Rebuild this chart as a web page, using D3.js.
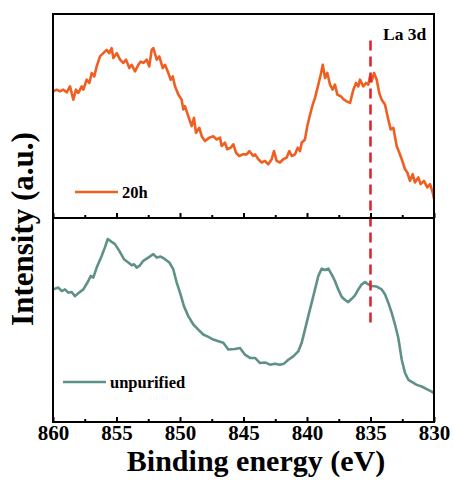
<!DOCTYPE html>
<html>
<head>
<meta charset="utf-8">
<script src="https://cdn.jsdelivr.net/npm/d3@7/dist/d3.min.js"></script>
<style>
  html, body { margin: 0; padding: 0; background: #fff; }
  svg text { font-family: "Liberation Serif", "Times New Roman", serif; font-weight: bold; fill: #000; }
</style>
</head>
<body>
<svg id="chart"></svg>
<script>
// La 3d XPS spectra, two stacked panels sharing the binding-energy axis.

// Top panel: 20h sample (binding energy eV, intensity a.u.)
const energy20h = [859.98, 859.71, 859.45, 859.19, 858.92, 858.66, 858.40, 858.19, 858.01, 857.74,
  857.61, 857.35, 857.14, 856.95, 856.75, 856.56, 856.30, 856.04, 855.77, 855.57,
  855.38, 855.25, 854.98, 854.72, 854.46, 854.25, 853.99, 853.80, 853.54, 853.28,
  853.09, 852.89, 852.62, 852.42, 852.23, 852.10, 851.83, 851.63, 851.36, 851.18,
  850.92, 850.73, 850.57, 850.39, 850.13, 849.87, 849.74, 849.61, 849.35, 849.08,
  848.90, 848.74, 848.48, 848.29, 848.03, 847.69, 847.38, 847.11, 846.85, 846.72,
  846.46, 846.28, 846.01, 845.80, 845.59, 845.33, 845.06, 844.75, 844.54, 844.23,
  844.09, 843.83, 843.57, 843.31, 843.05, 842.78, 842.60, 842.39, 842.13, 841.87,
  841.60, 841.39, 841.20, 840.94, 840.73, 840.55, 840.42, 840.16, 839.98, 839.76,
  839.55, 839.37, 839.11, 838.92, 838.76, 838.58, 838.40, 838.19, 837.98, 837.80,
  837.61, 837.35, 837.09, 836.87, 836.61, 836.35, 836.14, 835.96, 835.83, 835.57,
  835.35, 835.17, 835.04, 834.91, 834.72, 834.51, 834.31, 834.12, 833.86, 833.60,
  833.41, 833.20, 832.94, 832.73, 832.54, 832.28, 832.10, 831.89, 831.68, 831.50,
  831.24, 831.05, 830.79, 830.53, 830.31, 830.10, 830.00];
const intensity20h = [62.1, 62.9, 62.1, 62.9, 61.6, 64.5, 58.0, 62.9, 61.3, 64.5,
  62.9, 67.8, 66.2, 71.1, 69.4, 74.3, 79.2, 80.8, 82.4, 80.8,
  83.3, 78.4, 80.8, 77.6, 76.0, 77.6, 73.5, 75.1, 71.9, 75.1,
  76.7, 76.0, 77.6, 74.3, 82.4, 83.3, 77.6, 79.2, 73.5, 75.1,
  71.1, 67.8, 69.4, 64.5, 60.5, 58.0, 53.2, 54.8, 49.9, 45.0,
  49.1, 41.8, 44.2, 40.1, 37.7, 39.4, 40.1, 38.5, 39.4, 35.3,
  36.9, 33.7, 34.5, 36.1, 32.0, 30.4, 31.2, 31.2, 32.8, 30.4,
  31.2, 28.8, 27.2, 28.0, 26.3, 28.8, 32.8, 28.0, 27.2, 28.8,
  29.6, 32.8, 30.4, 31.2, 34.5, 32.8, 36.9, 38.5, 45.0, 50.7,
  55.6, 58.9, 65.4, 70.2, 75.1, 68.6, 71.1, 65.4, 62.9, 65.4,
  60.5, 59.7, 58.0, 57.2, 56.4, 62.9, 66.2, 64.5, 67.8, 64.5,
  66.2, 65.4, 69.4, 67.0, 71.1, 67.8, 61.3, 58.0, 55.6, 48.3,
  43.4, 44.2, 35.3, 32.0, 28.8, 23.9, 22.3, 18.2, 21.5, 17.4,
  19.9, 16.6, 18.2, 15.0, 16.6, 12.5, 9.3];

// Bottom panel: unpurified sample
const energyUnpur = [859.98, 859.58, 859.31, 859.06, 858.80, 858.53, 858.27, 858.01, 857.61, 857.22,
  857.03, 856.83, 856.56, 856.17, 855.91, 855.69, 855.38, 855.12, 854.78, 854.41,
  854.07, 853.80, 853.62, 853.41, 853.15, 852.89, 852.50, 852.10, 851.83, 851.52,
  851.18, 850.84, 850.53, 850.26, 850.00, 849.69, 849.35, 848.95, 848.56, 848.17,
  847.77, 847.38, 846.98, 846.59, 846.20, 845.67, 845.28, 844.88, 844.49, 844.09,
  843.70, 843.31, 842.91, 842.52, 842.13, 841.81, 841.47, 841.08, 840.69, 840.42,
  840.16, 839.90, 839.63, 839.37, 839.11, 838.84, 838.58, 838.32, 838.06, 837.80,
  837.54, 837.27, 837.01, 836.75, 836.48, 836.22, 835.96, 835.69, 835.43, 835.17,
  834.91, 834.51, 834.12, 833.86, 833.60, 833.33, 833.07, 832.81, 832.54, 832.28,
  832.02, 831.68, 831.36, 830.97, 830.57, 830.18, 830.00];
const intensityUnpur = [65.0, 65.9, 64.2, 65.0, 63.4, 63.7, 61.7, 63.1, 65.0, 69.1,
  71.6, 70.8, 75.7, 81.4, 85.6, 89.7, 88.3, 87.2, 83.9, 79.8,
  78.2, 76.8, 77.3, 75.7, 76.8, 79.0, 80.6, 82.3, 80.6, 81.1,
  79.8, 78.2, 74.9, 68.3, 63.4, 56.8, 51.9, 47.8, 45.3, 42.9,
  41.7, 40.4, 39.6, 38.8, 35.5, 35.8, 36.3, 33.0, 31.4, 31.4,
  28.9, 29.2, 28.1, 28.6, 28.1, 28.6, 30.5, 32.2, 34.6, 38.8,
  45.3, 51.9, 58.5, 65.0, 71.6, 75.2, 74.5, 75.2, 72.4, 69.1,
  65.0, 61.4, 59.8, 58.8, 60.4, 62.1, 65.0, 67.5, 68.6, 67.5,
  66.7, 66.4, 65.0, 62.6, 58.5, 53.5, 47.8, 41.2, 30.5, 24.0,
  20.7, 19.4, 18.2, 17.4, 16.1, 14.9, 14.1];

// Axis ticks
const majorTicks = [860, 855, 850, 845, 840, 835, 830];
const minorTicks = [857.5, 852.5, 847.5, 842.5, 837.5, 832.5];

// Reference line for La 3d (energy, top-panel intensity, bottom-panel intensity)
const refEnergy = 835;
const refTopIntensity = 87;
const refBottomIntensity = 47;

const ORANGE = "#f05f22";
const TEAL = "#5f9189";
const RED = "#e0262e";

const W = 453, H = 487;
const M = { top: 14, right: 19, bottom: 65, left: 53 };
const innerW = W - M.left - M.right;
const innerH = H - M.top - M.bottom;
const panelH = innerH / 2;

const svg = d3.select("#chart").attr("width", W).attr("height", H);
const g = svg.append("g").attr("transform", `translate(${M.left},${M.top})`);

const x = d3.scaleLinear().domain([860, 830]).range([0, innerW]);
const yTop = d3.scaleLinear().domain([0, 100]).range([panelH, 0]);
const yBot = d3.scaleLinear().domain([0, 100]).range([innerH, panelH]);

// Spectra
const topData = energy20h.map((e, i) => ({ e, v: intensity20h[i] }));
const botData = energyUnpur.map((e, i) => ({ e, v: intensityUnpur[i] }));

g.append("path")
  .datum(topData)
  .attr("fill", "none")
  .attr("stroke", ORANGE)
  .attr("stroke-width", 2.6)
  .attr("stroke-linejoin", "round")
  .attr("d", d3.line().x(d => x(d.e)).y(d => yTop(d.v)));

g.append("path")
  .datum(botData)
  .attr("fill", "none")
  .attr("stroke", TEAL)
  .attr("stroke-width", 2.6)
  .attr("stroke-linejoin", "round")
  .attr("d", d3.line().x(d => x(d.e)).y(d => yBot(d.v)));

// La 3d dashed marker across both panels
g.append("line")
  .attr("x1", x(refEnergy)).attr("x2", x(refEnergy))
  .attr("y1", yTop(refTopIntensity)).attr("y2", yBot(refBottomIntensity))
  .attr("stroke", RED)
  .attr("stroke-width", 2.6)
  .attr("stroke-dasharray", "10,6");

// Ticks (inward) at the bottom of each panel
[panelH, innerH].forEach(py => {
  const major = g.append("g")
    .attr("transform", `translate(0,${py})`)
    .call(d3.axisBottom(x).tickValues(majorTicks).tickSize(-5).tickFormat(""));
  const minor = g.append("g")
    .attr("transform", `translate(0,${py})`)
    .call(d3.axisBottom(x).tickValues(minorTicks).tickSize(-3).tickFormat(""));
  [major, minor].forEach(a => {
    a.select(".domain").remove();
    a.selectAll("line").attr("stroke", "#000").attr("stroke-width", 2);
  });
});

// Tick labels
const labels = g.append("g")
  .attr("transform", `translate(0,${innerH})`)
  .call(d3.axisBottom(x).tickValues(majorTicks).tickSize(0).tickPadding(0).tickFormat(d3.format("d")));
labels.select(".domain").remove();
labels.selectAll("text")
  .attr("y", 18)
  .attr("dy", 0)
  .attr("font-size", 21)
  .style("font-family", "'Liberation Serif', serif")
  .style("font-weight", "bold")
  .attr("fill", "#000");

// Frame + divider
g.append("rect")
  .attr("width", innerW).attr("height", innerH)
  .attr("fill", "none").attr("stroke", "#000").attr("stroke-width", 2);
g.append("line")
  .attr("x1", 0).attr("x2", innerW)
  .attr("y1", panelH).attr("y2", panelH)
  .attr("stroke", "#000").attr("stroke-width", 2);

// Legends
function legend(lx, ly, color, label) {
  g.append("line")
    .attr("x1", lx).attr("x2", lx + 43)
    .attr("y1", ly).attr("y2", ly)
    .attr("stroke", color).attr("stroke-width", 2.6);
  g.append("text")
    .attr("x", lx + 47).attr("y", ly + 6)
    .attr("font-size", 16.5)
    .text(label);
}
legend(22, 178, ORANGE, "20h");
legend(10, 368, TEAL, "unpurified");

// Annotation
g.append("text")
  .attr("x", 330).attr("y", 26)
  .attr("font-size", 17.5)
  .text("La 3d");

// Axis titles
svg.append("text")
  .attr("x", 256).attr("y", 471)
  .attr("text-anchor", "middle")
  .attr("font-size", 30)
  .text("Binding energy (eV)");

svg.append("text")
  .attr("transform", "translate(33,229) rotate(-90)")
  .attr("text-anchor", "middle")
  .attr("font-size", 31)
  .text("Intensity (a.u.)");
</script>
</body>
</html>
